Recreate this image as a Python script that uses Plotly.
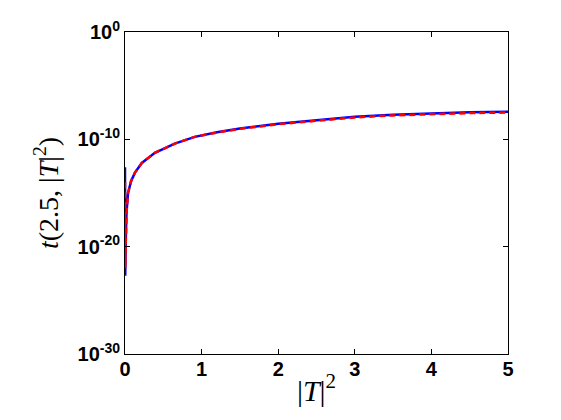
import plotly.graph_objects as go

# |T|^2 values and t(2.5, |T|^2)
T2_blue = [0, 0.003, 0.01, 0.02, 0.04, 0.08, 0.13, 0.22, 0.39, 0.65, 0.91,
           1.2, 1.5, 2.0, 2.5, 3.0, 3.5, 4.0, 4.5, 5.0]
t_blue = [2.5e-13, 2.0e-23, 3.2e-20, 1.6e-17, 1.0e-15, 1.3e-14, 7.9e-14,
          6.3e-13, 5.6e-12, 4.0e-11, 1.7e-10, 4.5e-10, 1.0e-09, 2.8e-09,
          6.3e-09, 1.26e-08, 2.0e-08, 2.8e-08, 3.4e-08, 3.8e-08]

T2_red = [0, 0.004, 0.01, 0.02, 0.04, 0.08, 0.13, 0.22, 0.39, 0.65, 0.91,
          1.2, 1.5, 2.0, 2.5, 3.0, 3.5, 4.0, 4.5, 5.0]
t_red = [1.0e-14, 1.0e-22, 3.2e-20, 1.6e-17, 1.0e-15, 1.3e-14, 7.9e-14,
         6.3e-13, 5.6e-12, 4.0e-11, 1.7e-10, 4.3e-10, 9.5e-10, 2.6e-09,
         5.6e-09, 1.1e-08, 1.7e-08, 2.3e-08, 2.8e-08, 3.1e-08]

x_ticks = [0, 1, 2, 3, 4, 5]
y_ticks = [1e-30, 1e-20, 1e-10, 1]
y_ticktext = ["10<sup>-30</sup>", "10<sup>-20</sup>", "10<sup>-10</sup>", "10<sup>0</sup>"]

fig = go.Figure()
fig.add_trace(go.Scatter(x=T2_blue, y=t_blue, mode="lines",
                         line=dict(color="#0000ff", width=2.5)))
fig.add_trace(go.Scatter(x=T2_red, y=t_red, mode="lines",
                         line=dict(color="#ff0000", width=2.5, dash="6px,4px")))

axis_common = dict(showline=True, linecolor="black", linewidth=1, mirror="ticks",
                   ticks="inside", ticklen=5, tickcolor="black", showgrid=False,
                   zeroline=False, automargin=False,
                   tickfont=dict(family="Liberation Sans, Arial", size=20,
                                 color="black", weight="bold"))

fig.update_xaxes(range=[0, 5], tickvals=x_ticks, ticklabelstandoff=-3,
                 title=dict(text="|<i>T</i>|<sup>2</sup>", standoff=0,
                            font=dict(family="Liberation Serif, Times New Roman",
                                      size=30, color="black")),
                 **axis_common)
fig.update_yaxes(type="log", range=[-30, 0], tickvals=y_ticks, ticktext=y_ticktext,
                 title=dict(text="<i>t</i>(2.5, |<i>T</i>|<sup>2</sup>)", standoff=10,
                            font=dict(family="Liberation Serif, Times New Roman",
                                      size=28, color="black")),
                 **axis_common)

# the page shifts the figure by 8px, so the margins are shifted back
fig.update_layout(width=561, height=420, showlegend=False,
                  plot_bgcolor="white", paper_bgcolor="white",
                  margin=dict(l=117, r=61, t=24, b=74))

fig.write_html("out.html")
